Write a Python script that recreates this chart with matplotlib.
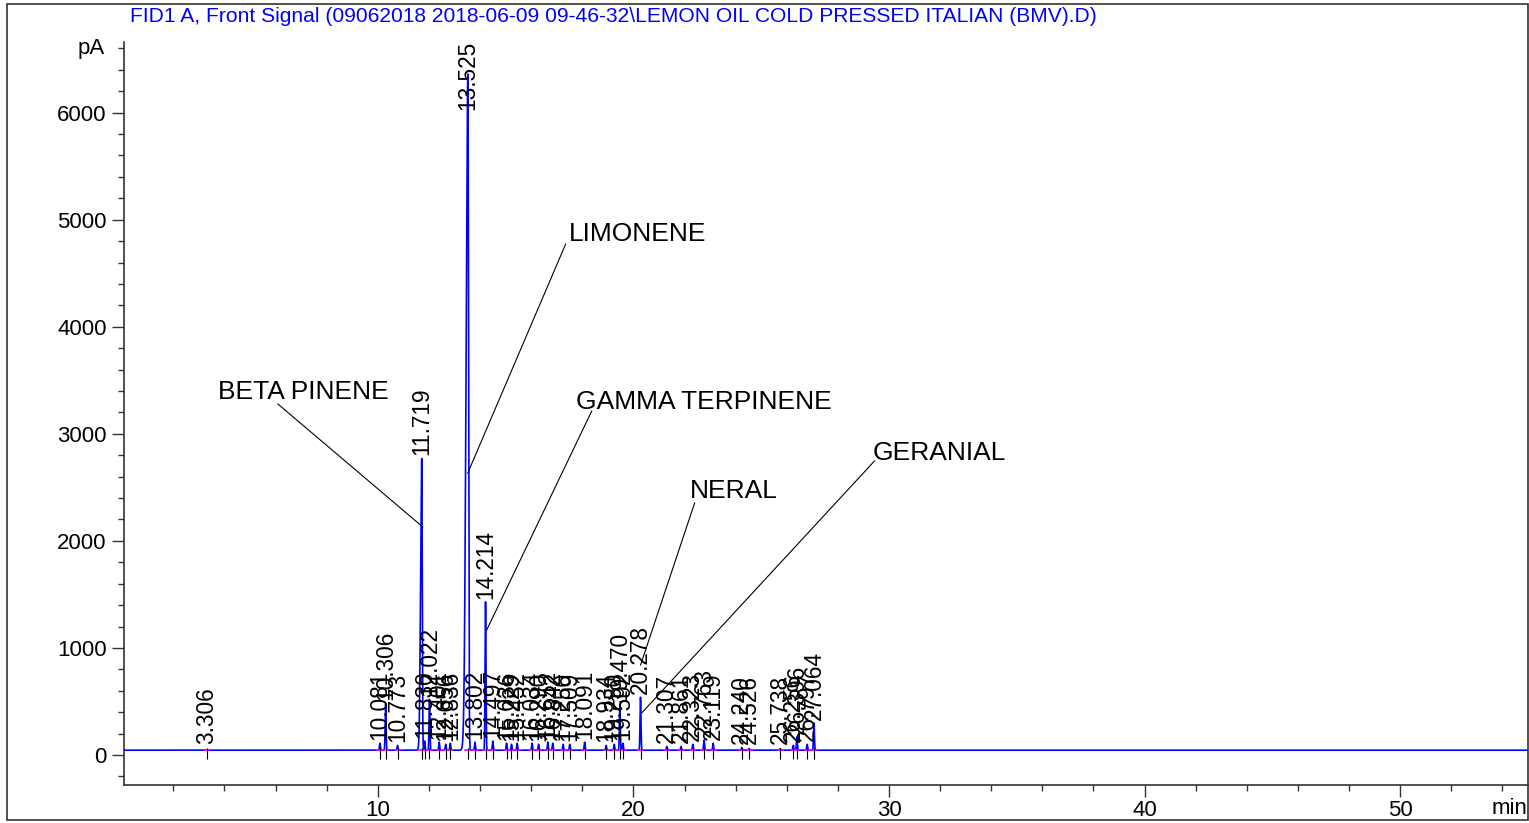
import numpy as np
import matplotlib.pyplot as plt
from matplotlib.patches import Rectangle

plt.rcParams['font.family'] = ['Liberation Sans', 'DejaVu Sans']

# peak table: retention time (min) and apex (pA)
rt = [3.306, 10.081, 10.306, 10.773, 11.719, 11.830, 12.022, 12.401, 12.656, 12.836,
      13.525, 13.802, 14.214, 14.497, 15.036, 15.229, 15.452, 16.034, 16.290, 16.652,
      16.842, 17.250, 17.509, 18.091, 18.934, 19.250, 19.470, 19.592, 20.278, 21.307,
      21.861, 22.323, 22.763, 23.119, 24.240, 24.526, 25.738, 26.256, 26.396, 26.797,
      27.064]
apex = [50, 110, 480, 90, 2770, 130, 520, 120, 100, 110,
        6360, 120, 1430, 130, 110, 100, 110, 110, 100, 120,
        110, 100, 100, 120, 90, 100, 470, 110, 540, 80,
        80, 100, 140, 110, 70, 60, 60, 90, 170, 100,
        300]
baseline = 45

# named compounds and the peak each one belongs to
compounds = ["BETA PINENE", "LIMONENE", "GAMMA TERPINENE", "NERAL", "GERANIAL"]
compound_rt = [11.719, 13.525, 14.214, 19.470, 20.278]

title = r"FID1 A, Front Signal (09062018 2018-06-09 09-46-32\LEMON OIL COLD PRESSED ITALIAN (BMV).D)"

# build the trace from the peak table
t = np.arange(0.07, 55.0, 0.002)
sig = np.full_like(t, float(baseline))
for r, h in zip(rt, apex):
    left = 0.018
    right = 0.018
    if h > 5000:
        left, right = 0.07, 0.025
    elif h > 2000:
        left, right = 0.045, 0.02
    s = np.where(t < r, left, right)
    sig += (h - baseline) * np.exp(-0.5 * ((t - r) / s) ** 2)

W, H = 1529, 823
fig = plt.figure(figsize=(W / 100, H / 100), dpi=100)
ax = fig.add_axes([124 / W, 1 - 785 / H, (1528 - 124) / W, (785 - 42) / H])

ax.plot(t, sig, color='#0000ff', lw=1.2, zorder=3)

# integration baseline bits and retention markers
for r in rt:
    ax.plot([r - 0.1, r + 0.1], [baseline, baseline], color='#ff00ff', lw=1.2, zorder=4)
ax.vlines(rt, -40, 70, color='black', lw=0.8, zorder=5)

ylim_top = 6660
for r, h in zip(rt, apex):
    y = max(h + 30, 100)
    if h > 6000:
        ax.text(r, ylim_top + 10, f"{r:.3f}", rotation=90, ha='center', va='top',
                fontsize=16.3, zorder=6)
    else:
        ax.text(r, y, f"{r:.3f}", rotation=90, ha='center', va='bottom',
                fontsize=16.3, zorder=6)

# compound name labels: text anchor, line start, line end
name_pos = [(3.744, 3326), (17.468, 4801), (17.742, 3232), (22.2, 2401), (29.355, 2756)]
line_from = [(6.09, 3279), (17.35, 4773), (18.37, 3213), (22.395, 2354), (29.43, 2746)]
line_to = [(11.76, 2130), (13.52, 2634), (14.26, 1168), (20.28, 841), (20.32, 392)]
for name, p, a, b in zip(compounds, name_pos, line_from, line_to):
    ax.text(p[0], p[1], name, fontsize=19, ha='left', va='baseline', zorder=6)
    ax.plot([a[0], b[0]], [a[1], b[1]], color='black', lw=0.8, zorder=6)

ax.set_xlim(0.07, 55.0)
ax.set_ylim(-280, ylim_top)
ax.spines['top'].set_visible(False)
ax.spines['right'].set_visible(False)
for sp in ('left', 'bottom'):
    ax.spines[sp].set_color('#333333')
    ax.spines[sp].set_linewidth(1.2)

ax.set_xticks([10, 20, 30, 40, 50])
ax.set_xticks(np.arange(2, 55, 2), minor=True)
ax.set_yticks([0, 1000, 2000, 3000, 4000, 5000, 6000])
ax.set_yticks(np.arange(-200, 6601, 200), minor=True)
ax.tick_params(axis='both', which='major', length=8.5, width=1, color='#333333',
               labelsize=16, direction='out')
ax.tick_params(axis='both', which='minor', length=4.5, width=1, color='#333333',
               direction='out')
ax.tick_params(axis='x', which='major', pad=2.5)
ax.tick_params(axis='y', which='major', pad=4)

ax.annotate('pA', xy=(0, 6600), xycoords=ax.get_yaxis_transform(),
            xytext=(-13.7, 0), textcoords='offset points', ha='right', va='center',
            fontsize=16)
fig.text(1527 / W, 1 - 809 / H, 'min', ha='right', va='center', fontsize=16)
fig.text(130 / W, 1 - 17 / H, title, ha='left', va='center', fontsize=15.1,
         color='#0000ff')

fig.patches.append(Rectangle((7 / W, 1 - 820 / H), (1528 - 7) / W, (820 - 4) / H,
                             transform=fig.transFigure, fill=False,
                             edgecolor='#333333', lw=1.2))

fig.savefig('out.png', dpi=100)
